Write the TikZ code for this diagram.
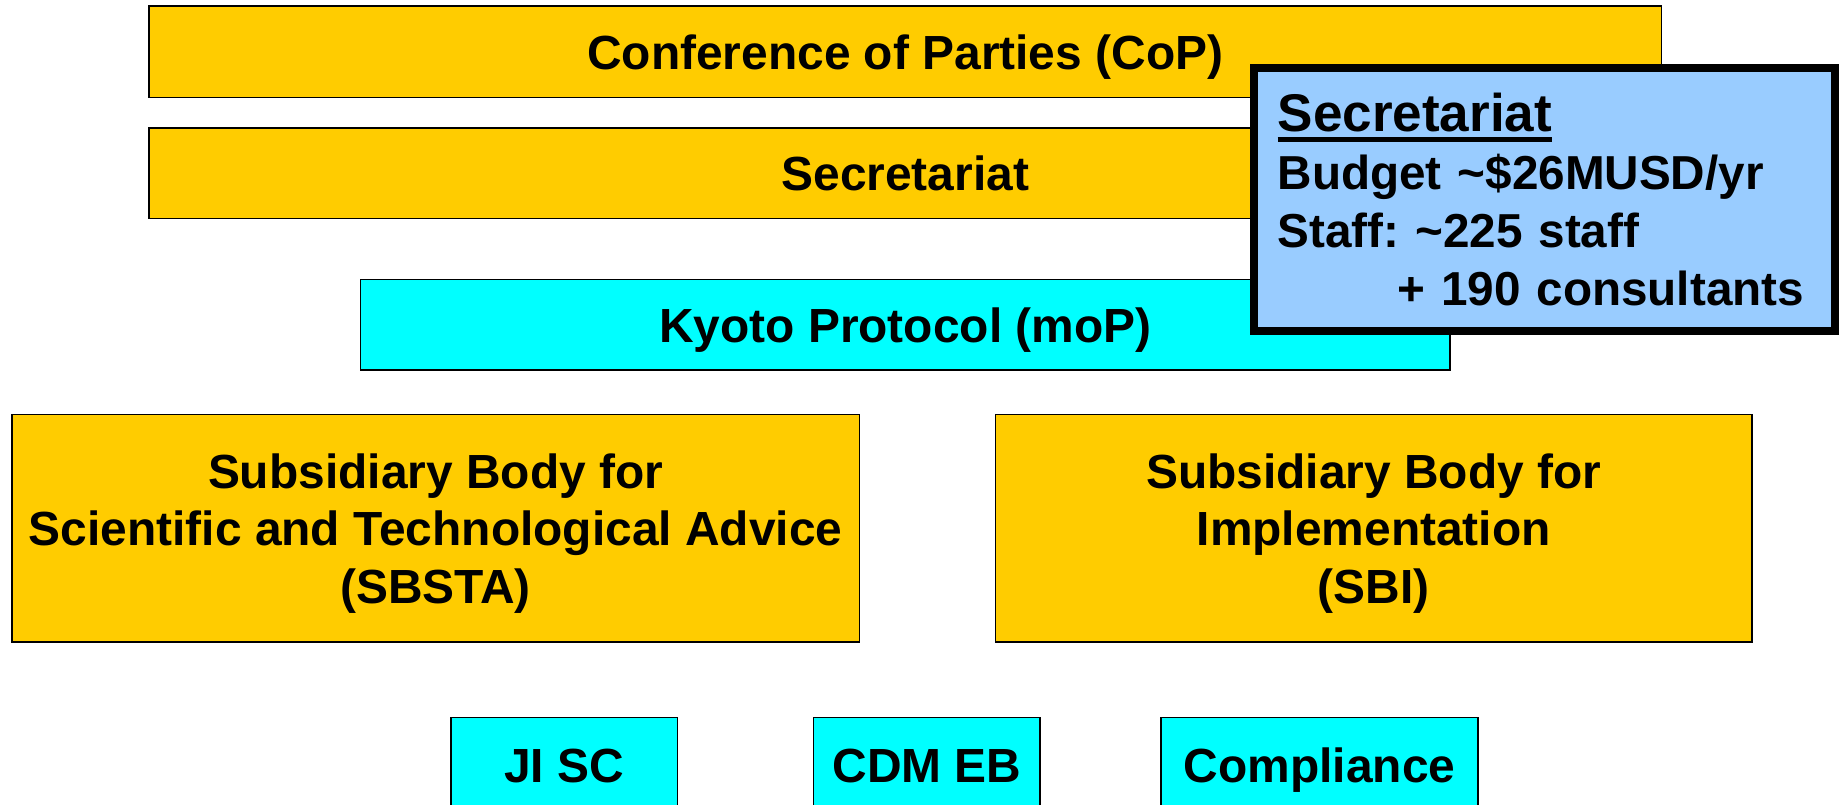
\documentclass[tikz,border=0pt]{standalone}
\usepackage{fontspec}
\setmainfont{Liberation Sans}
\usetikzlibrary{positioning,calc}
\pgfdeclarelayer{foreground}
\pgfsetlayers{main,foreground}
\definecolor{cfgold}{HTML}{FFCC00}
\definecolor{cfcyan}{HTML}{00FFFF}
\definecolor{cfblue}{HTML}{99CCFF}
\newcommand{\ulhead}[1]{\setbox0\hbox{#1}\rlap{\rule[-4.5pt]{\wd0}{2.2pt}}\box0}
\frenchspacing
\tikzset{
  body/.style={draw=black,line width=0.7pt,inner sep=0pt,align=center,text depth=0pt,
    font=\bfseries\fontsize{20.4}{24.5}\selectfont},
  orgbox/.style={body,fill=cfgold},
  kpbox/.style={body,fill=cfcyan},
  notebox/.style={draw=black,line width=3.2pt,fill=cfblue,inner xsep=10pt,
    inner ysep=0pt,align=left,font=\bfseries\fontsize{20.3}{24.75}\selectfont},
}
\begin{document}
\begin{tikzpicture}[x=0.5pt,y=-0.5pt]
\clip (0,0) rectangle (1568,685.6);
% top bars
\node[orgbox,minimum width=644pt,minimum height=39pt] (cop) at (771,44) {Conference of Parties (CoP)};
\node[orgbox,minimum width=644pt,minimum height=38.5pt] (secr) at (771,147.5) {Secretariat};
\node[kpbox,minimum width=464pt,minimum height=38.5pt] (kyoto) at (771,276.5) {Kyoto Protocol (moP)};
% subsidiary bodies
\node[orgbox,minimum width=361pt,minimum height=97pt] (sbsta) at (371,450)
  {Subsidiary Body for\\Scientific and Technological Advice\\(SBSTA)};
\node[orgbox,minimum width=322pt,minimum height=97pt] (sbi) at (1170,450)
  {Subsidiary Body for\\Implementation\\(SBI)};
% bottom row
\node[kpbox,minimum width=96.5pt,minimum height=41pt] (jisc) at (480.5,652) {JI SC};
\node[kpbox,minimum width=96.5pt,minimum height=41pt] (cdmeb) at (789.5,652) {CDM EB};
\node[kpbox,minimum width=135pt,minimum height=41pt] (compl) at (1124,652) {Compliance};
% secretariat note
\begin{pgfonlayer}{foreground}
\node[notebox,text width=227.3pt,minimum height=112pt] (secnote) at (1315.5,170)
  {{\fontsize{22.6}{24.75}\selectfont\ulhead{Secretariat}}\\
   Budget \char`\~\$26MUSD/yr\\
   Staff: \char`\~225 staff\\
   \hspace*{51pt}+ 190 consultants};
\end{pgfonlayer}
\end{tikzpicture}
\end{document}
